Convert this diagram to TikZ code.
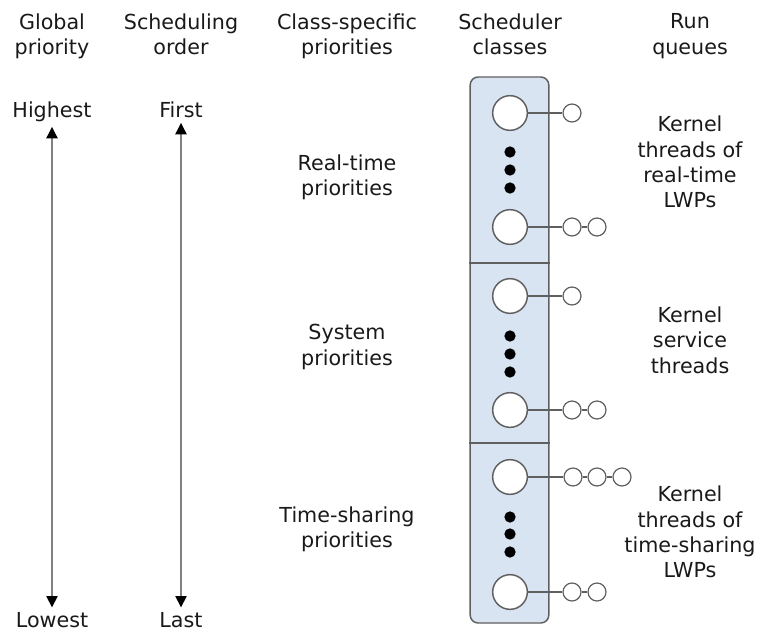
\documentclass[tikz,border=0pt]{standalone}
\usepackage{fontspec}
\setmainfont{DejaVu Sans}
\usetikzlibrary{arrows.meta}
\definecolor{classfill}{RGB}{216,228,242}
\definecolor{ink}{RGB}{25,25,25}
\definecolor{rule}{RGB}{95,95,95}

\begin{document}
\begin{tikzpicture}[x=0.75pt,y=-0.75pt,line width=0.8pt,
  every node/.style={text=ink,font=\fontsize{15.5}{19}\selectfont,align=center},
  big/.style={circle,draw=rule,fill=white,line width=1.1pt,minimum size=26pt,inner sep=0pt},
  small/.style={circle,draw=rule,fill=white,line width=0.9pt,minimum size=13.5pt,inner sep=0pt},
  thread/.style={circle,fill=black,minimum size=8.5pt,inner sep=0pt},
  rankline/.style={<->,>={Triangle[length=8.5pt,width=8.5pt,color=black]},draw=gray,line width=0.9pt}]
\useasboundingbox (0,0) rectangle (762,635);

% column heads
\node (glob)  at (52,36)  {Global\\priority};
\node (sched) at (181,34) {Scheduling\\order};
\node (csp)   at (347,36) {Class-specific\\priorities};
\node (scl)   at (510,34) {Scheduler\\classes};
\node (rq)    at (690,36) {Run\\queues};

% the two scales
\node (hi)    at (52,112)  {Highest};
\node (lo)    at (52,620)  {Lowest};
\node (first) at (181,110) {First};
\node (last)  at (181,620) {Last};
\draw[rankline] (hi) -- (lo);
\draw[rankline] (first) -- (last);

% class priorities
\node (rtp) at (347,177) {Real-time\\priorities};
\node (syp) at (347,347) {System\\priorities};
\node (tsp) at (347,529) {Time-sharing\\priorities};

% scheduler classes
\node[draw=rule,fill=classfill,line width=1.1pt,rounded corners=6pt,
      minimum width=59pt,minimum height=409.5pt] (box) at (509.5,350) {};
\coordinate (cut1) at (0,263);
\coordinate (cut2) at (0,443);
\draw[rule,line width=1.1pt] (box.west |- cut1) -- (box.east |- cut1);
\draw[rule,line width=1.1pt] (box.west |- cut2) -- (box.east |- cut2);

\node[big] (rt1) at (510,113) {};
\node[big] (rt2) at (510,227) {};
\node[big] (sy1) at (510,296) {};
\node[big] (sy2) at (510,410) {};
\node[big] (ts1) at (510,477) {};
\node[big] (ts2) at (510,592) {};
\foreach \y in {152,170,188,336,354,372,517,534,552}
  \node[thread] at (510,\y) {};

% run queues
\node[small] (rt1a) at (572,113) {};
\node[small] (rt2a) at (572,227) {};
\node[small] (rt2b) at (597,227) {};
\node[small] (sy1a) at (572,296) {};
\node[small] (sy2a) at (572,410) {};
\node[small] (sy2b) at (597,410) {};
\node[small] (ts1a) at (573,477) {};
\node[small] (ts1b) at (597,477) {};
\node[small] (ts1c) at (622,477) {};
\node[small] (ts2a) at (572,592) {};
\node[small] (ts2b) at (597,592) {};

\path[draw=rule] (rt1) edge (rt1a)
                 (rt2) edge (rt2a)  (rt2a) edge (rt2b)
                 (sy1) edge (sy1a)
                 (sy2) edge (sy2a)  (sy2a) edge (sy2b)
                 (ts1) edge (ts1a)  (ts1a) edge (ts1b)  (ts1b) edge (ts1c)
                 (ts2) edge (ts2a)  (ts2a) edge (ts2b);

\node (rtq) at (690,162) {Kernel\\threads of\\real-time\\LWPs};
\node (syq) at (690,340) {Kernel\\service\\threads};
\node (tsq) at (690,532) {Kernel\\threads of\\time-sharing\\LWPs};

\end{tikzpicture}
\end{document}
